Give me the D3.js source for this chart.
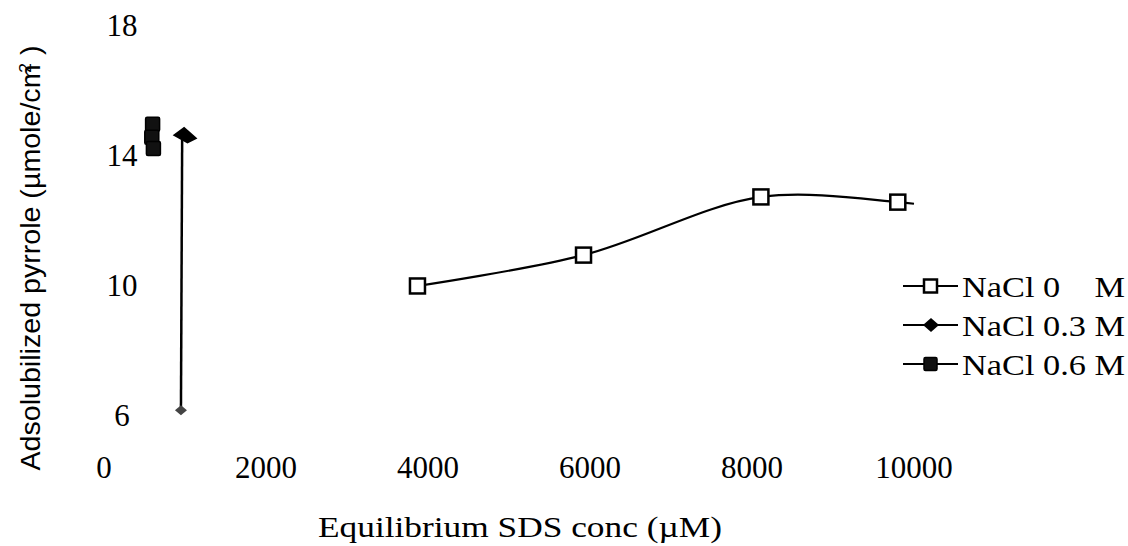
<!DOCTYPE html>
<html><head><meta charset="utf-8">
<script src="https://cdn.jsdelivr.net/npm/d3@7"></script>
<style>
body{margin:0;background:#fff;}
text{fill:#000;}
</style></head>
<body><svg id="c" width="1128" height="546"></svg>
<script>
// ---- data ----
const xTicks = [0, 2000, 4000, 6000, 8000, 10000];
const yTicks = [6, 10, 14, 18];
const nacl0X = [3870, 5920, 8110, 9800, 10000];
const nacl0Y = [9.97, 10.92, 12.71, 12.55, 12.5];
const nacl0Marked = [true, true, true, true, false];
const nacl03X = [965, 950];
const nacl03Y = [14.58, 6.15];
const nacl06X = [600, 590, 610];
const nacl06Y = [14.95, 14.55, 14.2];
const legendLabels = ["NaCl 0    M", "NaCl 0.3 M", "NaCl 0.6 M"];

const svg = d3.select("#c");
const x = d3.scaleLinear().domain([0, 10000]).range([104, 914]);
const y = d3.scaleLinear().domain([6, 18]).range([415, 25]);
const serif = "'Liberation Serif','Times New Roman',serif";

// y tick labels
svg.append("g").selectAll("text").data(yTicks).join("text")
  .attr("x", 122).attr("y", d => y(d)).attr("dy", "0.35em")
  .attr("text-anchor", "middle").style("font-family", serif).style("font-size", "31px")
  .text(d => d);

// x tick labels
svg.append("g").selectAll("text").data(xTicks).join("text")
  .attr("x", d => x(d)).attr("y", 467).attr("dy", "0.35em")
  .attr("text-anchor", "middle").style("font-family", serif).style("font-size", "31px")
  .text(d => d);

// axis titles
svg.append("text").attr("x", 520).attr("y", 537)
  .attr("text-anchor", "middle").style("font-family", serif).style("font-size", "30px")
  .attr("textLength", 404).attr("lengthAdjust", "spacingAndGlyphs")
  .text("Equilibrium SDS conc (\u00b5M)");
const yt = svg.append("text").attr("transform", "translate(40,258) rotate(-90)")
  .attr("text-anchor", "middle").style("font-family", "'Liberation Sans',Arial,sans-serif").style("font-size", "27px")
  .attr("textLength", 425).attr("lengthAdjust", "spacingAndGlyphs");
yt.append("tspan").text("Adsolubilized pyrrole (\u00b5mole/cm");
yt.append("tspan").attr("dy", -9).attr("dx", -8).style("font-size", "17px").text("2");
yt.append("tspan").attr("dy", 9).text("  )");

const line = d3.line().x(d => x(d[0])).y(d => y(d[1])).curve(d3.curveCatmullRom.alpha(0.5));

// NaCl 0 series
const s0 = nacl0X.map((v, i) => [v, nacl0Y[i], nacl0Marked[i]]);
svg.append("path").attr("d", line(s0)).attr("fill", "none").attr("stroke", "#000").attr("stroke-width", 2.2);
svg.append("g").selectAll("rect").data(s0.filter(d => d[2])).join("rect")
  .attr("x", d => x(d[0]) - 7.5).attr("y", d => y(d[1]) - 7.5).attr("width", 15).attr("height", 15)
  .attr("fill", "#fff").attr("stroke", "#000").attr("stroke-width", 2.5);

// NaCl 0.3 series
const s3 = nacl03X.map((v, i) => [v, nacl03Y[i]]);
svg.append("path").attr("d", d3.line().x(d => x(d[0])).y(d => y(d[1]))(s3))
  .attr("fill", "none").attr("stroke", "#000").attr("stroke-width", 2.5);
const bigDiamond = "M-12.5,-1L-1,-9.3L12.3,2.3L2.3,7.3Z";
svg.append("path").attr("d", bigDiamond).attr("transform", `translate(${x(nacl03X[0]) + 3},${y(nacl03Y[0])})`).attr("fill", "#000");
svg.append("path").attr("d", "M-6,0L0,-5L6,0L0,5Z").attr("transform", `translate(${x(nacl03X[1])},${y(nacl03Y[1])})`).attr("fill", "#444");

// NaCl 0.6 series
const s6 = nacl06X.map((v, i) => [v, nacl06Y[i]]);
svg.append("path").attr("d", line(s6)).attr("fill", "none").attr("stroke", "#000").attr("stroke-width", 2.5);
svg.append("g").selectAll("rect").data(s6).join("rect")
  .attr("x", d => x(d[0]) - 7).attr("y", d => y(d[1]) - 7).attr("width", 14).attr("height", 14)
  .attr("rx", 1.5).attr("fill", "#111").attr("stroke", "#000").attr("stroke-width", 1.5);

// legend
const lg = svg.append("g");
legendLabels.forEach((lab, i) => {
  const cy = 286 + i * 39;
  lg.append("line").attr("x1", 903).attr("x2", 958).attr("y1", cy).attr("y2", cy).attr("stroke", "#000").attr("stroke-width", 2.2);
  if (i === 0) {
    lg.append("rect").attr("x", 924).attr("y", cy - 6.5).attr("width", 13).attr("height", 13).attr("fill", "#fff").attr("stroke", "#000").attr("stroke-width", 2.5);
  } else if (i === 1) {
    lg.append("path").attr("d", "M-8,0L0,-7L8,0L0,7Z").attr("transform", `translate(931,${cy})`).attr("fill", "#000");
  } else {
    lg.append("rect").attr("x", 924).attr("y", cy - 6.5).attr("width", 13).attr("height", 13).attr("rx", 1.5).attr("fill", "#111").attr("stroke", "#000").attr("stroke-width", 1.5);
  }
  lg.append("text").attr("x", 962).attr("y", cy).attr("dy", "0.35em")
    .style("font-family", serif).style("font-size", "30px").style("white-space", "pre")
    .attr("xml:space", "preserve")
    .attr("textLength", 163).attr("lengthAdjust", "spacingAndGlyphs")
    .text(lab);
});
</script></body></html>
